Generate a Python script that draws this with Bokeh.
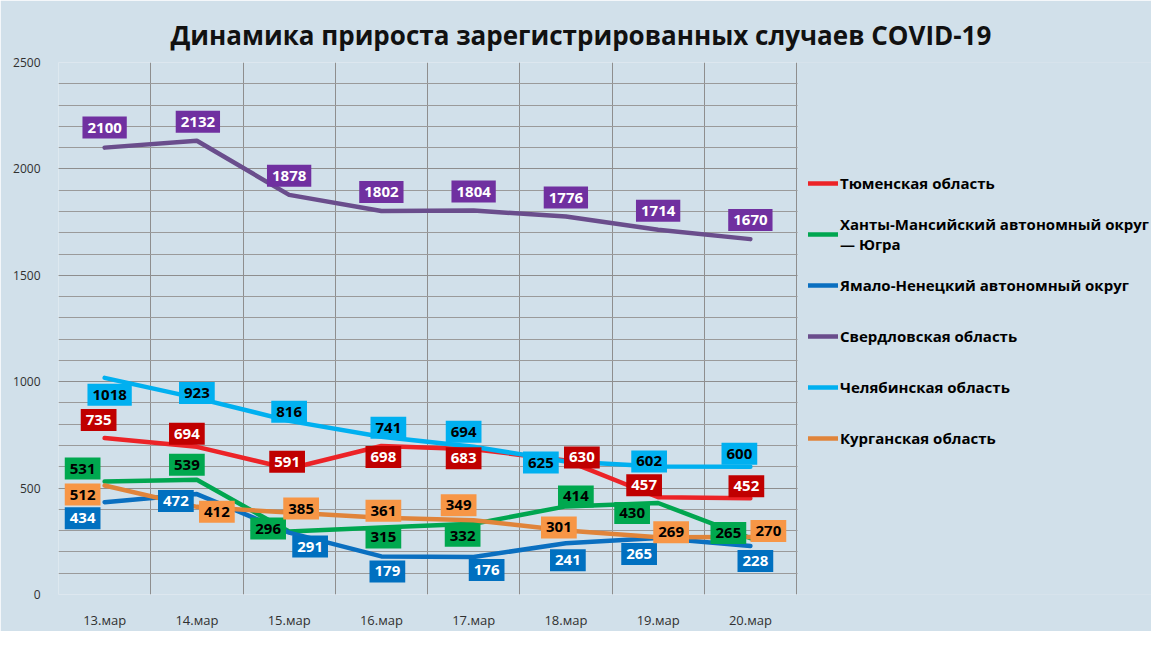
from bokeh.plotting import figure
from bokeh.models import (ColumnDataSource, Title, Legend, LegendItem,
                          FixedTicker, Range1d)
from bokeh.core.properties import value
from bokeh.embed import file_html
from bokeh.resources import INLINE

# ---------------- data ----------------
dates = ["13.мар", "14.мар", "15.мар", "16.мар", "17.мар", "18.мар", "19.мар", "20.мар"]
tyumen = [735, 694, 591, 698, 683, 630, 457, 452]
khmao = [531, 539, 296, 315, 332, 414, 430, 265]
yanao = [434, 472, 291, 179, 176, 241, 265, 228]
sverdlovsk = [2100, 2132, 1878, 1802, 1804, 1776, 1714, 1670]
chelyabinsk = [1018, 923, 816, 741, 694, 625, 602, 600]
kurgan = [512, 412, 385, 361, 349, 301, 269, 270]
names = ["Тюменская область",
         "Ханты-Мансийский автономный округ\n— Югра",
         "Ямало-Ненецкий автономный округ",
         "Свердловская область",
         "Челябинская область",
         "Курганская область"]
y_ticks = [0, 500, 1000, 1500, 2000, 2500]
y_minor = list(range(0, 2501, 100))
title_text = "Динамика прироста зарегистрированных случаев COVID-19"

# ---------------- styles (label placement offsets in px, dy>0 = up) ----------------
styles = [
    dict(line="#ec2327", box="#c00000", txt="white",
         dx=[-6, -10, -2, 2, -10, 16, -14, -4], dy=[18, 13, 7, -11, -9, 3, 12, 12]),
    dict(line="#00a650", box="#00a84f", txt="black",
         dx=[-22, -10, -21, 2, -11, 10, -26, -22], dy=[13, 15, 3, -10, -12, 10, -10, 5]),
    dict(line="#0a6fc0", box="#0070c0", txt="white",
         dx=[-22, -21, 21, 6, 13, 2, -19, 5], dy=[-16, -7, -14, -15, -13, -17, -16, -15]),
    dict(line="#6a4d8c", box="#7030a0", txt="white",
         dx=[0, 1, 0, 0, 0, 0, 0, 0], dy=[20, 19, 19, 19, 19, 19, 19, 19]),
    dict(line="#00b0f0", box="#00b0f0", txt="black",
         dx=[5, 0, 0, 7, -10, -25, -9, -11], dy=[-17, 5, 9, 9, 15, -1, 5, 13]),
    dict(line="#e0843a", box="#f79646", txt="black",
         dx=[-22, 20, 12, 2, -15, -7, 13, 18], dy=[-9, -5, 4, 7, 15, 3, 5, 6]),
]
series = [tyumen, khmao, yanao, sverdlovsk, chelyabinsk, kurgan]

BG = "#d1e0ea"
GRID = "#8e8e8e"
FONT = "Open Sans"

W, H = 1151, 631
LEFT, TOP, BOTTOM = 58, 62, 31
CAT_PX = 92.25                     # pixel width of one category band
n = len(dates)
x_end = (W - LEFT) / CAT_PX        # frame spans plot area plus legend area

p = figure(width=W, height=H, x_range=Range1d(0, x_end), y_range=Range1d(0, 2500),
           output_backend="svg", toolbar_location=None,
           min_border_left=LEFT, min_border_right=0, min_border_top=TOP,
           min_border_bottom=BOTTOM)
p.background_fill_color = BG
p.border_fill_color = BG
p.outline_line_color = None

xs = [i + 0.5 for i in range(n)]
p.xaxis.ticker = FixedTicker(ticks=xs)
p.xaxis.major_label_overrides = {x: d for x, d in zip(xs, dates)}
p.xaxis.bounds = (0, n)
p.xgrid.ticker = FixedTicker(ticks=list(range(n + 1)))
p.yaxis.ticker = FixedTicker(ticks=y_ticks)
p.ygrid.ticker = FixedTicker(ticks=y_ticks, minor_ticks=y_minor)
for g in (p.xgrid, p.ygrid):
    g.grid_line_color = GRID
    g.grid_line_width = 1
p.ygrid.minor_grid_line_color = "#9a9a9a"

for ax in (p.xaxis, p.yaxis):
    ax.axis_line_color = None
    ax.major_tick_line_color = None
    ax.minor_tick_line_color = None
    ax.major_label_text_font = FONT
    ax.major_label_text_color = "#303030"
p.xaxis.major_label_text_font_size = "13px"
p.yaxis.major_label_text_font_size = "12px"
p.xaxis.major_label_standoff = 10
p.yaxis.major_label_standoff = 12

# mask the grid in the legend area (right of the plot area)
p.quad(left=n + 1.0 / CAT_PX, right=x_end + 1, bottom=-100, top=2600,
       fill_color=BG, line_color=None)

renderers = []
for vals, st in zip(series, styles):
    src = ColumnDataSource(dict(x=xs, y=vals))
    r = p.line("x", "y", source=src, line_color=st["line"], line_width=4.5, line_cap="round",
               line_join="round")
    renderers.append(r)

for vals, st in zip(series, styles):
    src = ColumnDataSource(dict(x=xs, y=vals, t=[str(v) for v in vals],
                                dx=st["dx"], dy=[-d for d in st["dy"]]))
    p.text(x="x", y="y", text="t", source=src, x_offset="dx", y_offset="dy",
           text_align="center", text_baseline="middle",
           text_font=value(FONT), text_font_style="bold", text_font_size="15px",
           text_color=st["txt"], background_fill_color=st["box"], padding=(5, 6))

legend = Legend(items=[LegendItem(label=nm, renderers=[r]) for nm, r in zip(names, renderers)],
                location=(750, 136), orientation="vertical",
                glyph_width=30, glyph_height=40, label_height=40, spacing=11,
                padding=0, margin=0, label_standoff=2,
                border_line_color=None, background_fill_alpha=0,
                label_text_font=FONT, label_text_font_style="bold",
                label_text_font_size="15px", label_text_color="black",
                label_text_line_height=1.45)
p.add_layout(legend)

title = Title(text=title_text, align="left", offset=112, standoff=20,
              text_font=FONT, text_font_style="bold", text_font_size="26px",
              text_color="#111111")
p.add_layout(title, "above")

open("out.html", "w").write(file_html(p, INLINE))
